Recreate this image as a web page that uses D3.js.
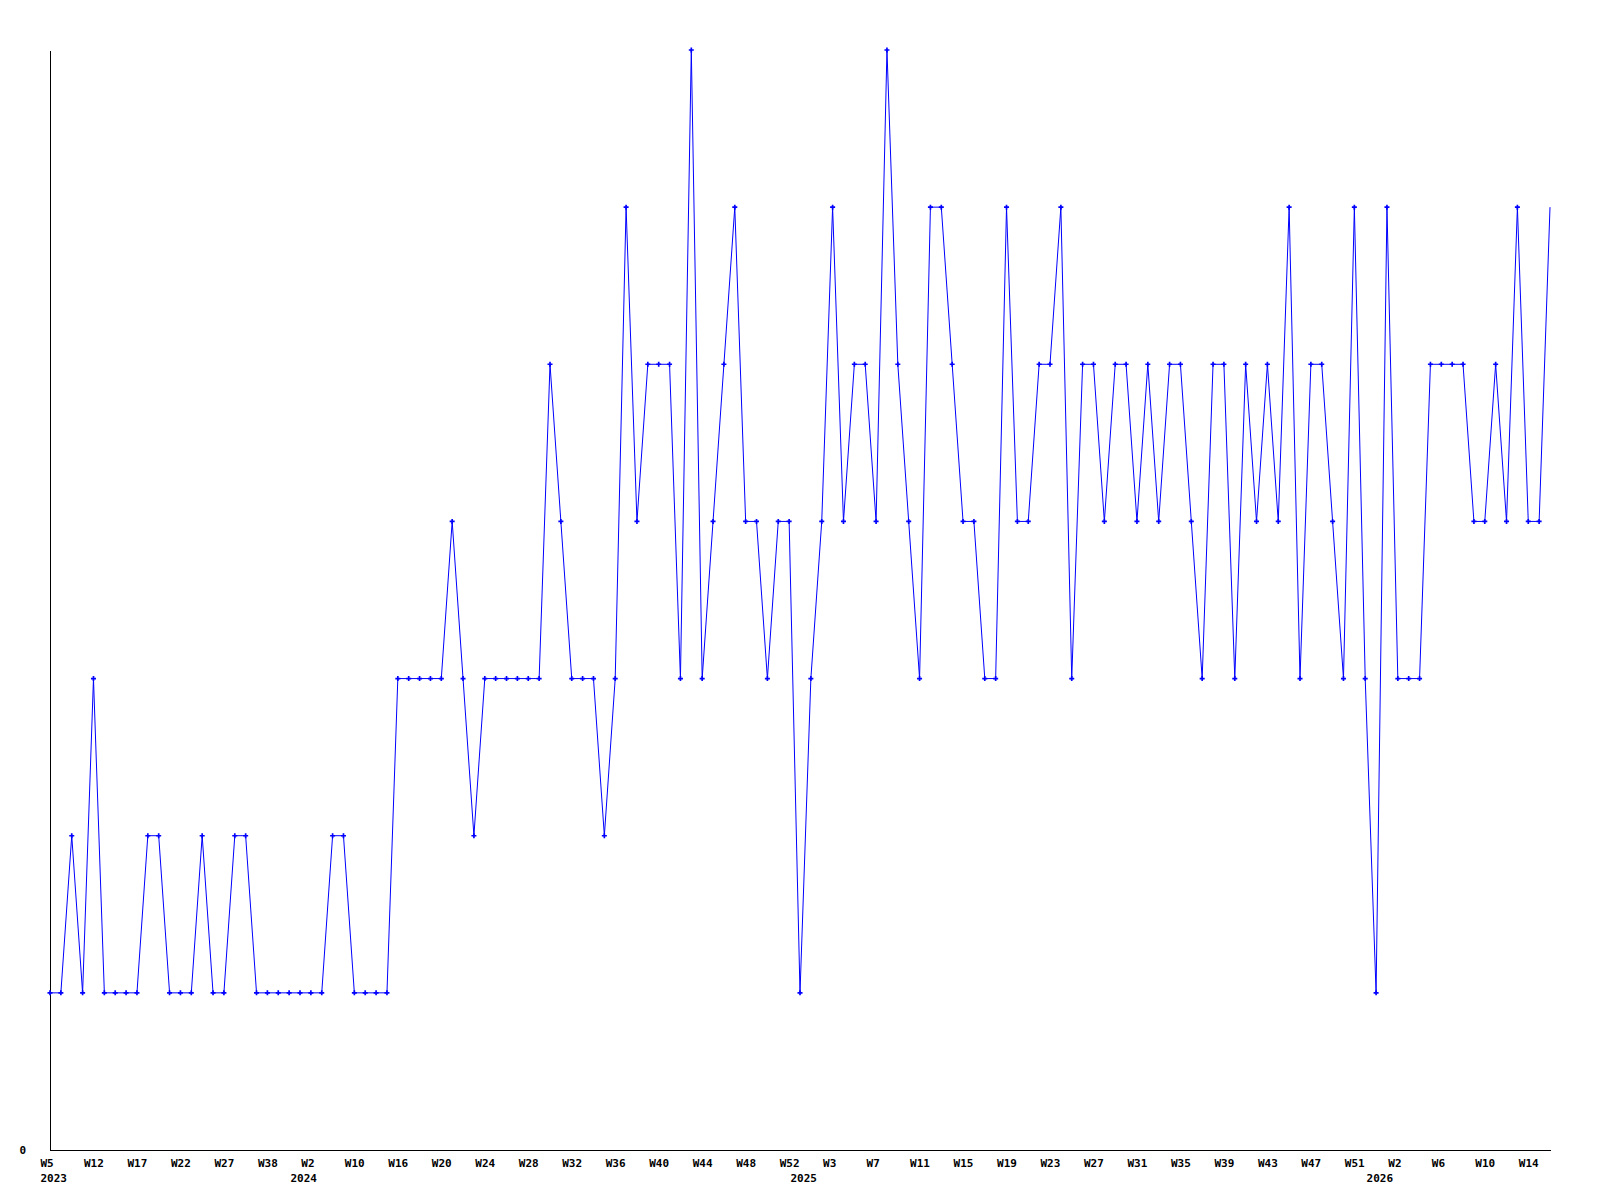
<!DOCTYPE html>
<html>
<head>
<meta charset="utf-8">
<script src="https://cdn.jsdelivr.net/npm/d3@7"></script>
<style>
    body { margin: 0; background: #ffffff; }
    svg { display: block; }
</style>
</head>
<body>
<svg id="chart"></svg>
<script>
// weekly counts, one per point (last week is still open, no marker)
var values = [
    1, 1, 2, 1, 3, 1, 1, 1, 1, 2, 2, 1, 1, 1, 2, 1, 1, 2, 2, 1,
    1, 1, 1, 1, 1, 1, 2, 2, 1, 1, 1, 1, 3, 3, 3, 3, 3, 4, 3, 2,
    3, 3, 3, 3, 3, 3, 5, 4, 3, 3, 3, 2, 3, 6, 4, 5, 5, 5, 3, 7,
    3, 4, 5, 6, 4, 4, 3, 4, 4, 1, 3, 4, 6, 4, 5, 5, 4, 7, 5, 4,
    3, 6, 6, 5, 4, 4, 3, 3, 6, 4, 4, 5, 5, 6, 3, 5, 5, 4, 5, 5,
    4, 5, 4, 5, 5, 4, 3, 5, 5, 3, 5, 4, 5, 4, 6, 3, 5, 5, 4, 3,
    6, 3, 1, 6, 3, 3, 3, 5, 5, 5, 5, 4, 4, 5, 4, 6, 4, 4, 6
];

// a week label is printed on every 4th point
var tickLabels = ["W5", "W12", "W17", "W22", "W27", "W38", "W2", "W10", "W16", "W20",
    "W24", "W28", "W32", "W36", "W40", "W44", "W48", "W52", "W3", "W7",
    "W11", "W15", "W19", "W23", "W27", "W31", "W35", "W39", "W43", "W47",
    "W51", "W2", "W6", "W10", "W14"];
var tickEvery = 4;

// year names and the point where each year starts
var years = ["2023", "2024", "2025", "2026"];
var yearStart = [0, 23, 69, 122];

var yTicks = [0];
var yMax = 7;

var svgWidth = 1600;
var svgHeight = 1200;
var margin = { top: 50, right: 50, bottom: 50, left: 50 };
var chartWidth = svgWidth - margin.left - margin.right;
var chartHeight = svgHeight - margin.top - margin.bottom;
var fontFamily = "'DejaVu Sans Mono', 'Liberation Mono', monospace";

var svg = d3.select("#chart")
    .attr("width", svgWidth)
    .attr("height", svgHeight);

var chart = svg.append("g")
    .attr("transform", "translate(" + margin.left + "," + margin.top + ")");

// scales
var xScale = d3.scalePoint()
    .domain(d3.range(values.length))
    .range([0, chartWidth]);

var yScale = d3.scaleLinear()
    .domain([0, yMax])
    .range([chartHeight, 0]);

// x axis with week labels
var tickIdx = tickLabels.map(function (d, i) { return i * tickEvery; });
var xAxis = chart.append("g")
    .attr("class", "x-axis")
    .attr("transform", "translate(0," + chartHeight + ")")
    .call(d3.axisBottom(xScale)
        .tickValues(tickIdx)
        .tickFormat(function (d) { return tickLabels[d / tickEvery]; })
        .tickSize(0)
        .tickSizeOuter(0));

xAxis.select(".domain").attr("stroke", "#000").attr("shape-rendering", "crispEdges");
xAxis.selectAll("text")
    .attr("y", 16.5)
    .attr("dy", 0)
    .attr("dx", -10)
    .attr("text-anchor", "start")
    .attr("fill", "#000")
    .style("font-family", fontFamily)
    .style("font-size", "11px")
    .style("font-weight", "bold");

// second row: year under its first week
var yearAxis = chart.append("g")
    .attr("class", "year-axis")
    .attr("transform", "translate(0," + chartHeight + ")")
    .call(d3.axisBottom(xScale)
        .tickValues(yearStart)
        .tickFormat(function (d) { return years[yearStart.indexOf(d)]; })
        .tickSize(0)
        .tickSizeOuter(0));

yearAxis.select(".domain").remove();
yearAxis.selectAll("text")
    .attr("y", 31.5)
    .attr("dy", 0)
    .attr("dx", -10)
    .attr("text-anchor", "start")
    .attr("fill", "#000")
    .style("font-family", fontFamily)
    .style("font-size", "11px")
    .style("font-weight", "bold");

// y axis, only 0 is labelled
var yAxis = chart.append("g")
    .attr("class", "y-axis")
    .call(d3.axisLeft(yScale)
        .tickValues(yTicks)
        .tickFormat(d3.format("d"))
        .tickSize(0)
        .tickPadding(24)
        .tickSizeOuter(0));

yAxis.select(".domain").attr("stroke", "#000").attr("shape-rendering", "crispEdges");
yAxis.selectAll("text")
    .attr("fill", "#000")
    .style("font-family", fontFamily)
    .style("font-size", "11px")
    .style("font-weight", "bold");

// the line
var line = d3.line()
    .x(function (d, i) { return xScale(i); })
    .y(function (d) { return yScale(d); });

chart.append("path")
    .datum(values)
    .attr("class", "series-line")
    .attr("fill", "none")
    .attr("stroke", "#0000ff")
    .attr("stroke-width", 1)
    .attr("d", line);

// point markers (skip the last, unfinished week)
chart.selectAll(".marker")
    .data(values.slice(0, values.length - 1))
    .enter()
    .append("path")
    .attr("class", "marker")
    .attr("d", d3.symbol(d3.symbolCross).size(14))
    .attr("transform", function (d, i) { return "translate(" + xScale(i) + "," + yScale(d) + ")"; })
    .attr("fill", "#0000ff");
</script>
</body>
</html>
